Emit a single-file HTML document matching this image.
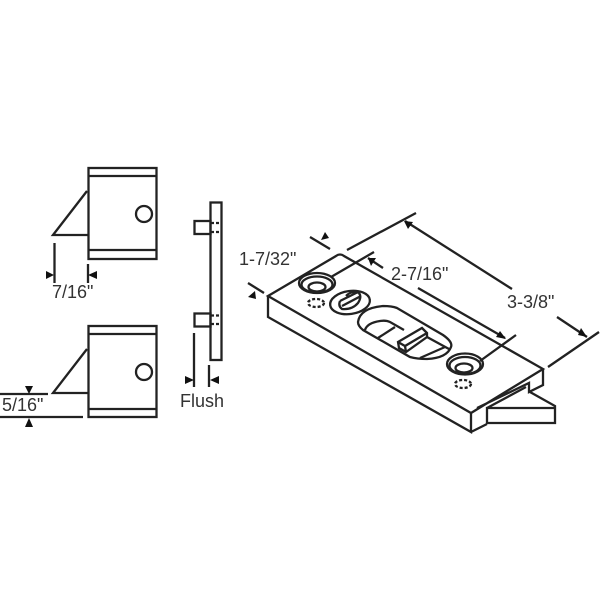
<!DOCTYPE html>
<html><head><meta charset="utf-8"><style>html,body{margin:0;padding:0;background:#fff}svg{display:block}text{font-family:"Liberation Sans",sans-serif;font-size:18px;fill:#333}</style></head><body>
<svg width="600" height="600" viewBox="0 0 600 600" xmlns="http://www.w3.org/2000/svg">
<g fill="none" stroke="#222" stroke-width="2.300">
<!-- top view -->
<rect x="88.5" y="168" width="68" height="91"/><path d="M88 176H156M88 250H156M87 191L53 235H88"/><circle cx="144" cy="214" r="8"/>
<path d="M54.500 243V283M88 264V283"/>
<!-- bottom view -->
<rect x="88.5" y="326" width="68" height="91"/><path d="M88 334H156M88 409H156M87 349L53 393H88"/><circle cx="144" cy="372" r="8"/>
<path d="M0 394H48M0 417H83"/>
<!-- side view -->
<rect x="210.500" y="202.500" width="11" height="157.500"/>
<rect x="194.500" y="221" width="16" height="13"/><rect x="194.500" y="313.500" width="16" height="13"/>
<path d="M211 223H221M211 232H221M211 315.500H221M211 324H221" stroke-dasharray="3 2"/>
<path d="M194 333V387M209 365V387"/>
<!-- iso body -->
<path d="M268 296L336 256Q340 253 344 256L543 369L471 413L268 296ZM268 296V317L471 432V413M471 432L487 424M477 408L529 383V392L543 385V369"/>
<path d="M487 408L526 387M530 392L555 406V423H487V408H555"/>
<!-- holes -->
<ellipse cx="317" cy="283" rx="18" ry="10"/><ellipse cx="317" cy="284.500" rx="15.500" ry="8"/><ellipse cx="317" cy="287" rx="8.500" ry="4.500"/>
<ellipse cx="316" cy="303" rx="8" ry="4" stroke-dasharray="3 2"/>
<ellipse cx="465" cy="364" rx="18" ry="10.500"/><ellipse cx="465" cy="365.500" rx="15.500" ry="8.500"/><ellipse cx="464" cy="368" rx="8.500" ry="4.500"/>
<ellipse cx="463" cy="384" rx="8" ry="4" stroke-dasharray="3 2"/>
<!-- screw -->
<ellipse cx="350" cy="302.500" rx="20" ry="11.500" transform="rotate(-8 350 302.500)"/>
<path d="M340 301L358 292M342 306L361 296M340 301Q338 306 342 309Q352 310 358 303Q362 297 359 293Q352 290 346 296"/>
<!-- slot -->
<path d="M358 322Q360 308 383 306Q392 306 397 308L443 335Q453 342 451 347Q447 358 427 359Q417 359 410 357L363 330Q358 326 358 322Z"/>
<path d="M365 330Q367 323 380 321Q386 320 390 322L404 330M378 338L395 327M427 337L449 349M420 358L445 347"/>
<path d="M398 342L422 328L427 333V337L406 352L399 348ZM398 342L405 346L427 333M405 346L406 352"/>
<!-- dimension lines -->
<path d="M347 250L416 213M548 367L599 332M405 221L512 289M557 317L587 337"/>
<path d="M331 277L374 252M480 361L516 335M368 258L383 268M418 288L505 338"/>
<path d="M310 237L330 249M248 283L264 293"/>
</g>
<g fill="#111">
<!-- arrows -->
<path d="M54 275L46 271V279ZM88 275L97 271V279Z"/>
<path d="M29 394L25 386H33ZM29 418L25 427H33Z"/>
<path d="M194 380L185 376V384ZM210 380L219 376V384Z"/>
<path d="M404 221L413 222L408 229Z"/>
<path d="M587 337L581 328L578 335Z"/>
<path d="M368 258L376 258L371 266Z"/>
<path d="M506 339L500 331L496 337Z"/>
<path d="M321 240L325 232L329 238Z"/>
<path d="M255 291L248 297L256 299Z"/>
</g>
<text x="52" y="298">7/16"</text>
<text x="2" y="411">5/16"</text>
<text x="180" y="407">Flush</text>
<text x="239" y="265">1-7/32"</text>
<text x="391" y="280">2-7/16"</text>
<text x="507" y="308">3-3/8"</text>
</svg>
</body></html>
